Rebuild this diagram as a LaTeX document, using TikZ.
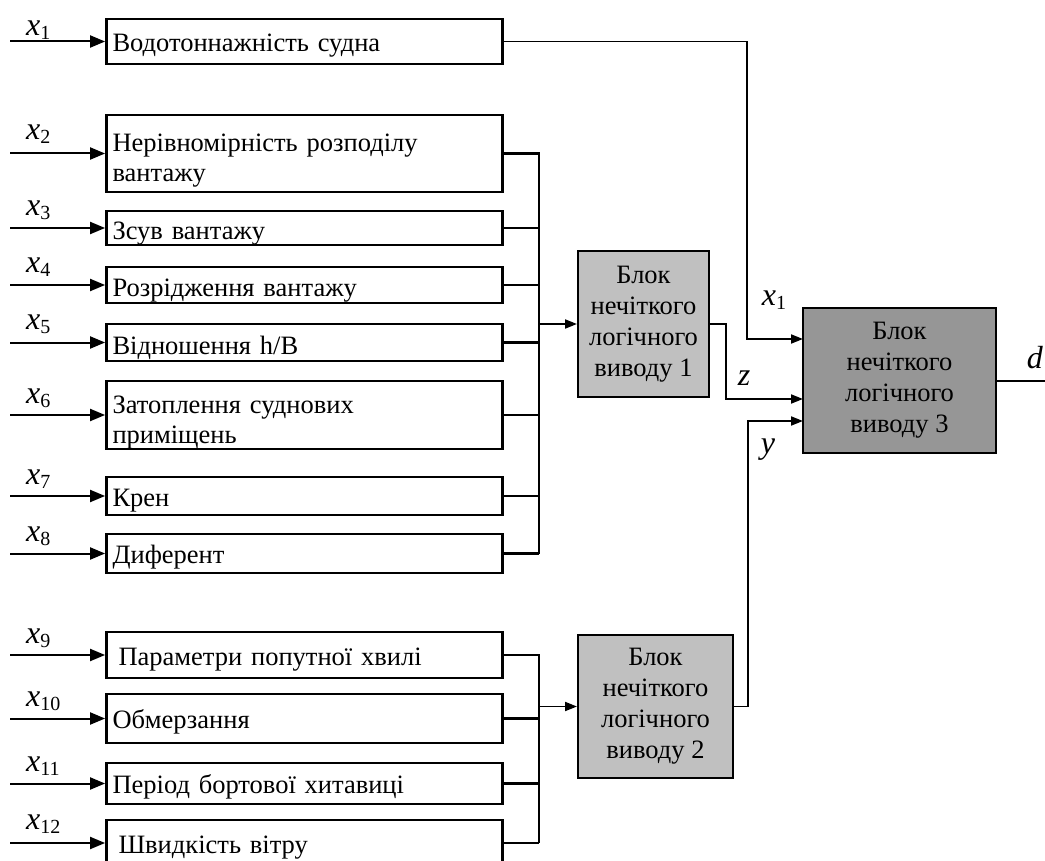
\documentclass[tikz,border=0pt]{standalone}
\usepackage{fontspec}
\setmainfont{Liberation Serif}
\usetikzlibrary{arrows.meta}

\definecolor{lightblock}{HTML}{C0C0C0}
\definecolor{darkblock}{HTML}{969696}
\newcommand{\xvar}[2]{\textit{#1}\raisebox{-4pt}{\fontsize{20}{20}\selectfont #2}}
\newcommand{\topgap}{\rule{0pt}{32pt}}

\begin{document}
\begin{tikzpicture}[x=1pt,y=-1pt,
  fact/.style={draw=black,line width=2.8pt,text width=384pt,inner xsep=6pt,inner ysep=0pt,align=left,font=\fontsize{26.5}{30}\selectfont},
  oneline/.style={text height=20pt,text depth=0pt},
  lowline/.style={text height=24pt,text depth=0pt},
  fis/.style={draw=black,line width=2pt,fill=lightblock,align=center,inner sep=0pt,font=\fontsize{26.5}{31}\selectfont},
  xlab/.style={anchor=base west,inner sep=0pt,font=\fontsize{32}{32}\selectfont},
  vlab/.style={inner sep=0pt,font=\fontsize{32}{32}\selectfont},
  inarr/.style={line width=2pt,-{Triangle[length=15pt,width=12pt]}},
  arr/.style={line width=1.8pt,-{Triangle[length=12pt,width=9pt]}},
  wire/.style={line width=2.6pt}]
  \useasboundingbox (0,0) rectangle (1045,861);
  \node[fact,oneline,minimum height=45pt] (b1) at (304.5,41.5) {Водотоннажність судна};
  \node[fact,minimum height=77pt] (b2) at (304.5,153.5) {\topgap Нерівномірність розподілу\\вантажу};
  \node[fact,lowline,minimum height=34pt] (b3) at (304.5,228) {Зсув вантажу};
  \node[fact,lowline,minimum height=36pt] (b4) at (304.5,285) {Розрідження вантажу};
  \node[fact,lowline,minimum height=37pt] (b5) at (304.5,342.5) {Відношення h/B};
  \node[fact,minimum height=68pt] (b6) at (304.5,415) {\topgap Затоплення суднових\\приміщень};
  \node[fact,oneline,minimum height=38pt] (b7) at (304.5,496) {Крен};
  \node[fact,oneline,minimum height=39pt] (b8) at (304.5,553.5) {Диферент};
  \node[fact,oneline,minimum height=46pt] (b9) at (304.5,655) {\hspace*{6pt}Параметри попутної хвилі};
  \node[fact,oneline,minimum height=49pt] (b10) at (304.5,718.5) {Обмерзання};
  \node[fact,oneline,minimum height=41pt] (b11) at (304.5,783.5) {Період бортової хитавиці};
  \node[fact,oneline,minimum height=46pt] (b12) at (304.5,843) {\hspace*{6pt}Швидкість вітру};
  \node[fis,minimum width=131pt,minimum height=146pt] (bl1) at (643.5,324) {Блок\\нечіткого\\логічного\\виводу 1};
  \node[fis,minimum width=155pt,minimum height=143pt] (bl2) at (655.5,706.5) {Блок\\нечіткого\\логічного\\виводу 2};
  \node[fis,fill=darkblock,minimum width=193pt,minimum height=145pt] (bl3) at (899.5,380.5) {Блок\\нечіткого\\логічного\\виводу 3};
  \coordinate (i1) at (10,41.5);
  \coordinate (i2) at (10,153.5);
  \coordinate (i3) at (10,228);
  \coordinate (i4) at (10,285);
  \coordinate (i5) at (10,342.5);
  \coordinate (i6) at (10,415);
  \coordinate (i7) at (10,496);
  \coordinate (i8) at (10,553.5);
  \coordinate (i9) at (10,655);
  \coordinate (i10) at (10,718.5);
  \coordinate (i11) at (10,783.5);
  \coordinate (i12) at (10,843);
  \node[xlab] (l1) at (26,36) {\xvar{x}{1}};
  \node[xlab] (l2) at (26,140) {\xvar{x}{2}};
  \node[xlab] (l3) at (26,216) {\xvar{x}{3}};
  \node[xlab] (l4) at (26,273) {\xvar{x}{4}};
  \node[xlab] (l5) at (26,330) {\xvar{x}{5}};
  \node[xlab] (l6) at (26,403) {\xvar{x}{6}};
  \node[xlab] (l7) at (26,484) {\xvar{x}{7}};
  \node[xlab] (l8) at (26,541) {\xvar{x}{8}};
  \node[xlab] (l9) at (26,643) {\xvar{x}{9}};
  \node[xlab] (l10) at (26,706) {\xvar{x}{10}};
  \node[xlab] (l11) at (26,771) {\xvar{x}{11}};
  \node[xlab] (l12) at (26,829) {\xvar{x}{12}};
  \coordinate (j1) at (539,553.5);
  \coordinate (j2) at (539,843);
  \coordinate (t1) at (747,339);
  \coordinate (k1) at (803,339);
  \coordinate (k2) at (803,399);
  \coordinate (t3) at (748,421);
  \coordinate (k3) at (803,421);
  \coordinate (dout) at (1045,380.5);
  \node[vlab] (lx1) at (774,300) {\xvar{x}{1}};
  \node[vlab] (lz) at (744,378) {\textit{z}};
  \node[vlab] (ly) at (768,450) {\textit{y}};
  \node[vlab] (ld) at (1035,358) {\textit{d}};
  \draw[inarr] (i1) -- (b1);
  \draw[inarr] (i2) -- (b2);
  \draw[inarr] (i3) -- (b3);
  \draw[inarr] (i4) -- (b4);
  \draw[inarr] (i5) -- (b5);
  \draw[inarr] (i6) -- (b6);
  \draw[inarr] (i7) -- (b7);
  \draw[inarr] (i8) -- (b8);
  \draw[inarr] (i9) -- (b9);
  \draw[inarr] (i10) -- (b10);
  \draw[inarr] (i11) -- (b11);
  \draw[inarr] (i12) -- (b12);
  \begin{scope}[wire]
    \draw (b2.east) -| (j1);
    \draw (b3.east) -| (j1);
    \draw (b4.east) -| (j1);
    \draw (b5.east) -| (j1);
    \draw (b6.east) -| (j1);
    \draw (b7.east) -| (j1);
    \draw (b8.east) -| (j1);
    \draw (b9.east) -| (j2);
    \draw (b10.east) -| (j2);
    \draw (b11.east) -| (j2);
    \draw (b12.east) -| (j2);
  \end{scope}
  \draw[arr] (bl1.west -| j1) -- (bl1);
  \draw[arr] (bl2.west -| j2) -- (bl2);
  \draw[arr] (b1.east) -| (t1) -- (k1);
  \draw[arr] (bl1.east) -- ++(16,0) |- (k2);
  \draw[arr] (bl2.east) -| (t3) -- (k3);
  \draw[line width=2pt] (bl3.east) -- (dout);
\end{tikzpicture}
\end{document}
